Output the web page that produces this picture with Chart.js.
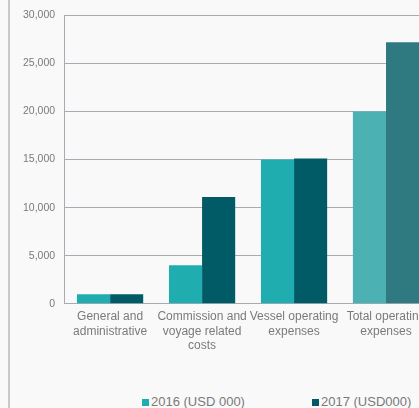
<!DOCTYPE html>
<html lang="en">
<head>
  <meta charset="UTF-8">
  <title>Operating Expenses 2016 vs 2017</title>
  <script src="https://cdn.jsdelivr.net/npm/chart.js"></script>
  <style>
    html, body {
      margin: 0;
      width: 419px;
      height: 408px;
      overflow: hidden;
      background: #f9f9f9;
      font-family: Arial, 'Liberation Sans', sans-serif;
    }

    .frame {
      position: absolute;
      left: 8px;
      top: 0;
      width: 2px;
      height: 408px;
      background: #c9c9c9;
    }

    .chart-box {
      position: absolute;
      left: 0;
      top: 0;
      width: 440px;
      height: 360px;
    }

    .legend-item {
      position: absolute;
      top: 394px;
      font-size: 13px;
      line-height: 15px;
      color: #7a7a7a;
      white-space: nowrap;
    }

    .legend-item i {
      display: inline-block;
      width: 7px;
      height: 7px;
      margin-right: 2px;
      vertical-align: 0px;
    }
  </style>
</head>
<body>
  <div class="frame"></div>
  <div class="chart-box">
    <canvas id="expenseChart"></canvas>
  </div>
  <div id="legend"></div>

  <script>
    // Values (USD 000)
    const categories = [
      ['General and', 'administrative'],
      ['Commission and', 'voyage related', 'costs'],
      ['Vessel operating', 'expenses'],
      ['Total operating', 'expenses']
    ];
    const values2016 = [1000, 4000, 15000, 20000];
    const values2017 = [1000, 11100, 15100, 27200];
    const yTicks = [0, 5000, 10000, 15000, 20000, 25000, 30000];

    // total bar is drawn a bit lighter
    const colors2016 = ['#1fadb0', '#1fadb0', '#1fadb0', '#4bb1b3'];
    const colors2017 = ['#005b66', '#005b66', '#005b66', '#2f7a81'];

    const ctx = document.getElementById('expenseChart').getContext('2d');
    const chart = new Chart(ctx, {
      type: 'bar',
      data: {
        labels: categories,
        datasets: [
          {
            label: '2016 (USD 000)',
            data: values2016,
            backgroundColor: colors2016,
            borderWidth: 0
          },
          {
            label: '2017 (USD000)',
            data: values2017,
            backgroundColor: colors2017,
            borderWidth: 0
          }
        ]
      },
      options: {
        responsive: true,
        maintainAspectRatio: false,
        animation: false,
        layout: {
          padding: { left: 14, right: 8, top: 11, bottom: 1 }
        },
        datasets: {
          bar: {
            categoryPercentage: 0.72,
            barPercentage: 1
          }
        },
        plugins: {
          tooltip: { enabled: false },
          legend: { display: false }
        },
        scales: {
          x: {
            grid: { display: false, drawTicks: false },
            border: { color: '#a9abb3', width: 1 },
            ticks: {
              color: '#7a7a7a',
              maxRotation: 0,
              autoSkip: false,
              padding: 6,
              font: { size: 12, family: 'Arial, "Liberation Sans", sans-serif', lineHeight: 1.2 }
            }
          },
          y: {
            min: 0,
            max: 30000,
            afterBuildTicks: function(axis) {
              axis.ticks = yTicks.map(v => ({ value: v }));
            },
            grid: { color: '#a9abb3', drawTicks: false },
            border: { color: '#a9abb3', width: 1 },
            ticks: {
              color: '#7a7a7a',
              padding: 9,
              font: { size: 10.5, family: 'Arial, "Liberation Sans", sans-serif' },
              callback: function(value) {
                return value.toLocaleString('en-US');
              }
            }
          }
        }
      }
    });

    // Legend sits far below the plot, spread wide, so it is laid out in HTML
    const legendX = [142, 312];
    const legend = document.getElementById('legend');
    chart.data.datasets.forEach((ds, i) => {
      const item = document.createElement('div');
      item.className = 'legend-item';
      item.style.left = legendX[i] + 'px';
      item.innerHTML = '<i style="background:' + ds.backgroundColor[0] + '"></i>' + ds.label;
      legend.appendChild(item);
    });
  </script>
</body>
</html>
